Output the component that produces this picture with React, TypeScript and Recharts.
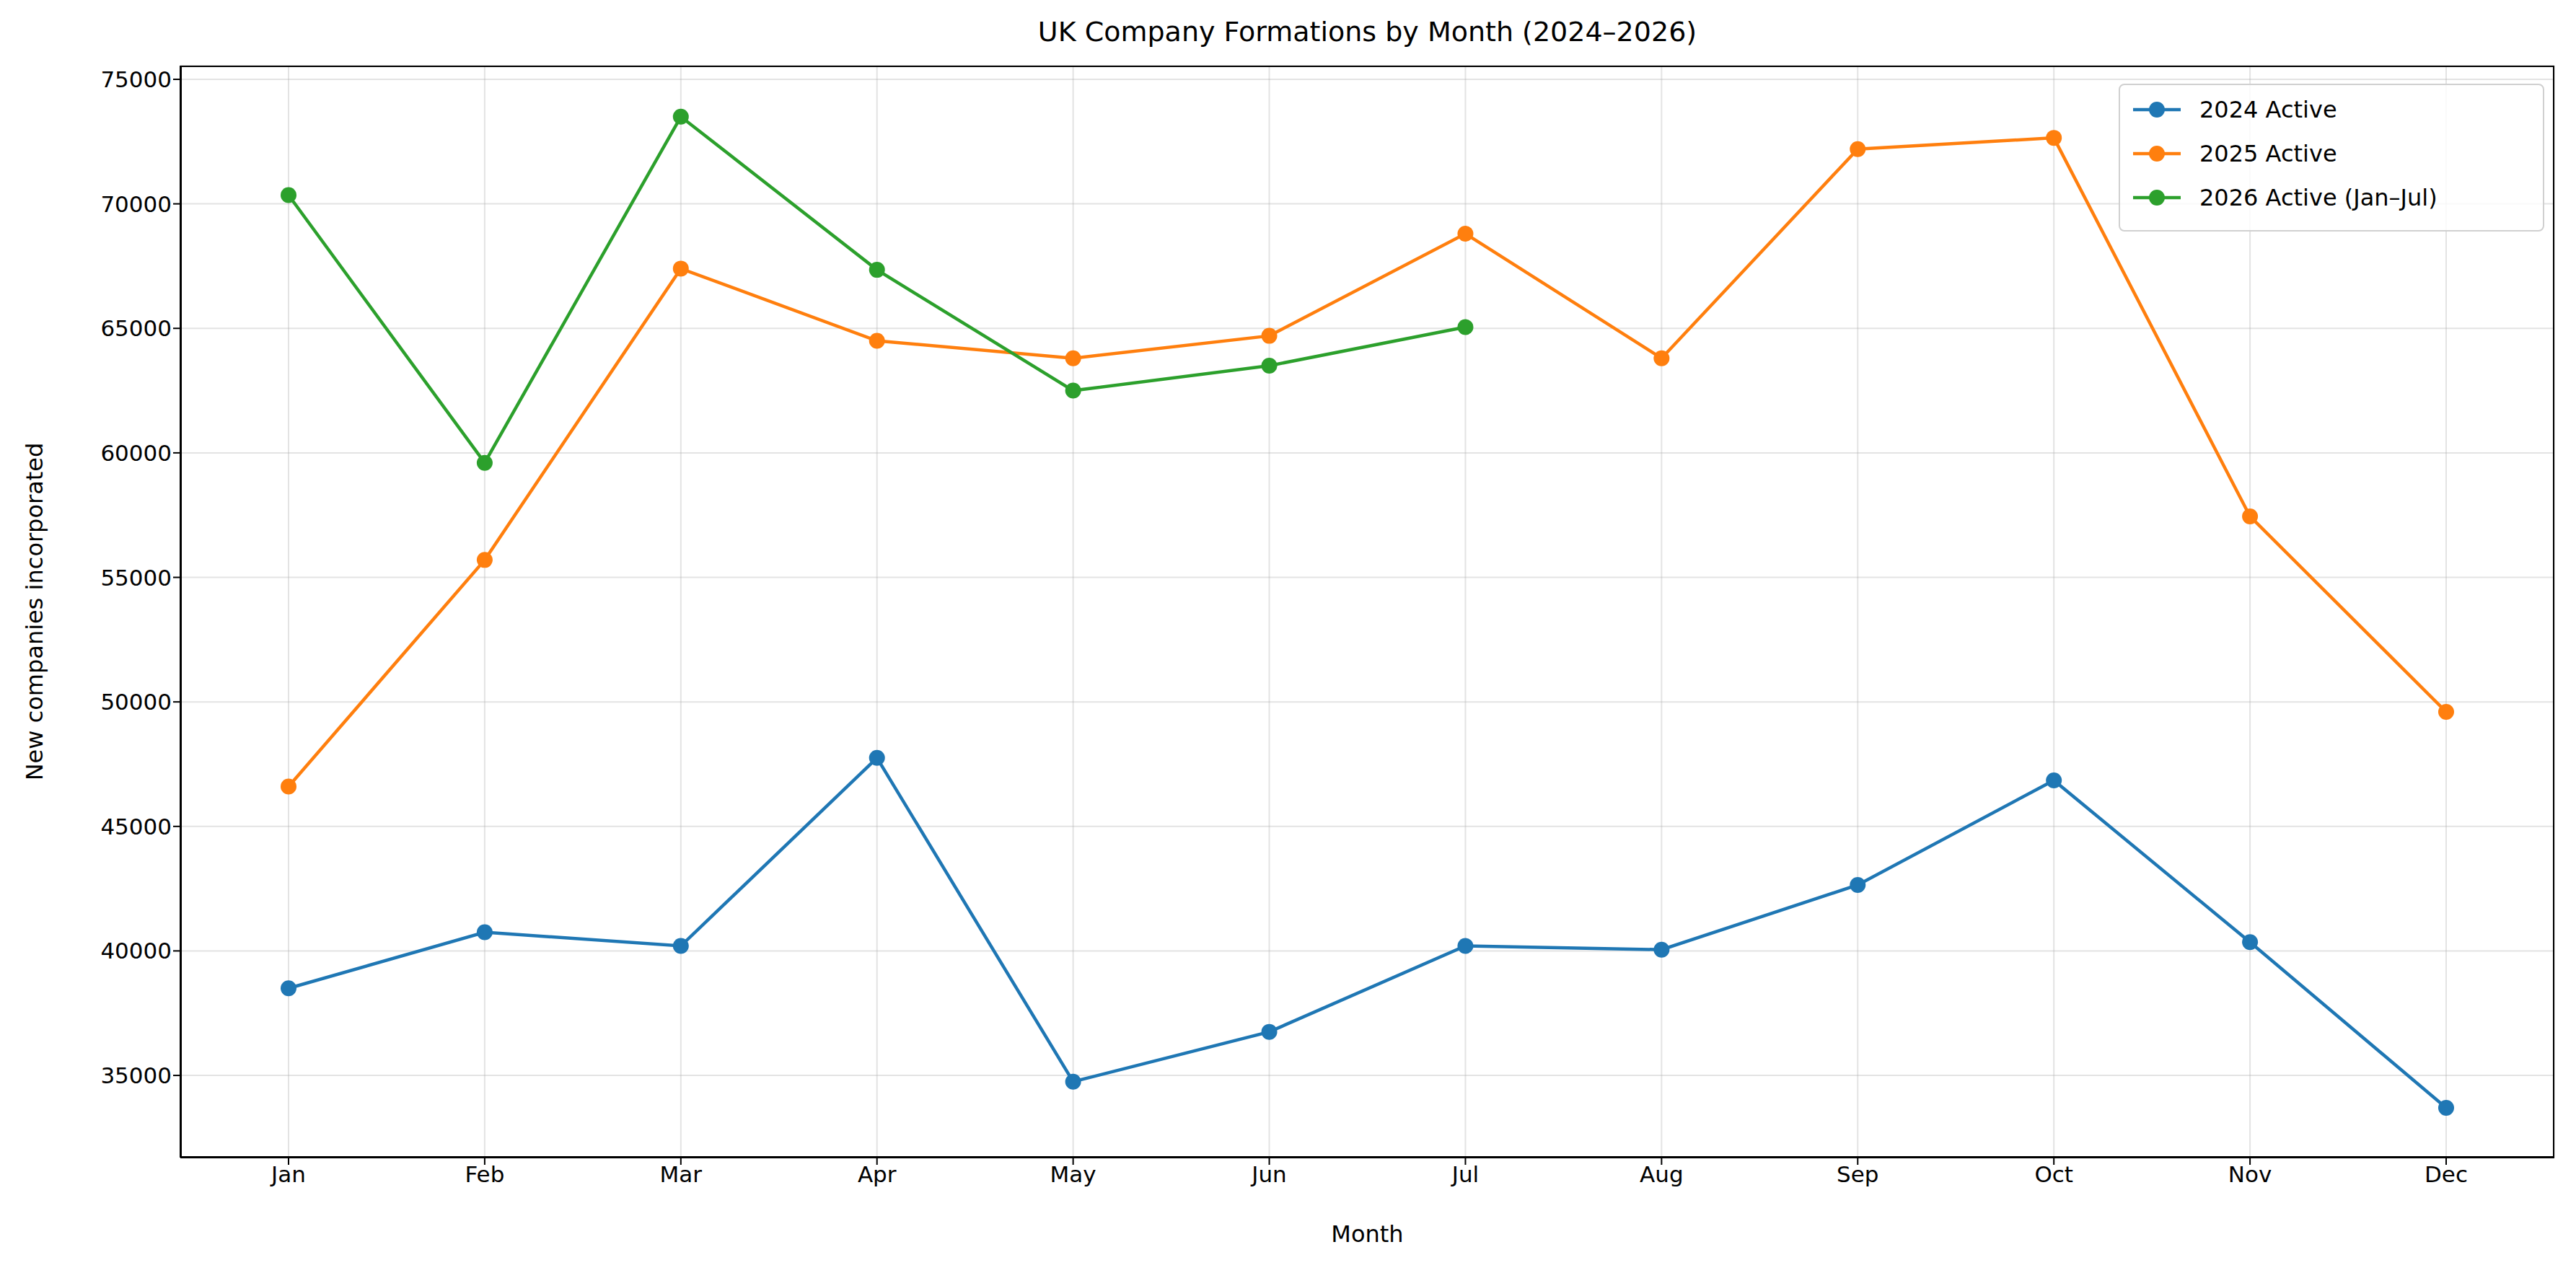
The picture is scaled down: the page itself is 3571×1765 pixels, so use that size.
import React from "react";
import { LineChart, Line, XAxis, YAxis, CartesianGrid } from "recharts";

const months = ["Jan", "Feb", "Mar", "Apr", "May", "Jun", "Jul", "Aug", "Sep", "Oct", "Nov", "Dec"];
const active2024 = [38500, 40750, 40200, 47750, 34750, 36750, 40200, 40050, 42650, 46850, 40350, 33700];
const active2025 = [46600, 55700, 67400, 64500, 63800, 64700, 68800, 63800, 72200, 72650, 57450, 49600];
const active2026 = [70350, 59600, 73500, 67350, 62500, 63500, 65050];
const yTicks = [35000, 40000, 45000, 50000, 55000, 60000, 65000, 70000, 75000];

const series = [
  { key: "a2024", name: "2024 Active", color: "#1f77b4" },
  { key: "a2025", name: "2025 Active", color: "#ff7f0e" },
  { key: "a2026", name: "2026 Active (Jan–Jul)", color: "#2ca02c" },
];

const data = months.map((m, i) => ({
  month: m,
  a2024: active2024[i],
  a2025: active2025[i],
  a2026: i < active2026.length ? active2026[i] : null,
}));

const W = 3571;
const H = 1765;
const font = "DejaVu Sans, sans-serif";
const tick = { fill: "#000", fontSize: 31, fontFamily: font };

export default function App() {
  return (
    <div style={{ position: "absolute", left: 0, top: 0, width: W, height: H, background: "#fff", fontFamily: font }}>
      <div style={{ position: "absolute", top: 22, left: 250, width: 3291, textAlign: "center", fontSize: 38 }}>
        UK Company Formations by Month (2024–2026)
      </div>
      <LineChart width={W} height={H} data={data} margin={{ top: 91, right: 30, bottom: 60, left: 100 }}>
        <CartesianGrid stroke="#b0b0b0" strokeOpacity={0.35} strokeWidth={2} />
        <XAxis
          dataKey="month"
          tick={tick}
          tickLine={{ stroke: "#000", strokeWidth: 2 }}
          tickSize={10}
          axisLine={{ stroke: "#000", strokeWidth: 2 }}
          height={100}
          padding={{ left: 150, right: 150 }}
          interval={0}
        />
        <YAxis
          domain={[31700, 75550]}
          ticks={yTicks}
          tick={tick}
          tickLine={{ stroke: "#000", strokeWidth: 2 }}
          tickSize={10}
          axisLine={{ stroke: "#000", strokeWidth: 2 }}
          width={150}
          allowDataOverflow
        />
        {series.map((s) => (
          <Line
            key={s.key}
            dataKey={s.key}
            name={s.name}
            stroke={s.color}
            strokeWidth={4.5}
            dot={{ r: 11, fill: s.color, stroke: s.color, strokeWidth: 0 }}
            activeDot={false}
            isAnimationActive={false}
            connectNulls={false}
          />
        ))}
      </LineChart>
      {/* plot frame */}
      <div style={{ position: "absolute", left: 250, top: 91, width: 3291, height: 1514, border: "2px solid #000", boxSizing: "border-box", pointerEvents: "none" }} />
      <div style={{ position: "absolute", top: 1692, left: 250, width: 3291, textAlign: "center", fontSize: 32 }}>
        Month
      </div>
      <div style={{ position: "absolute", left: 48, top: 848, transform: "translate(-50%, -50%) rotate(-90deg)", fontSize: 32, whiteSpace: "nowrap" }}>
        New companies incorporated
      </div>
      <div style={{ position: "absolute", left: 2937, top: 116, width: 590, height: 205, border: "2px solid #d0d0d0", borderRadius: 8, background: "rgba(255,255,255,0.8)", boxSizing: "border-box" }}>
        {series.map((s, i) => (
          <div key={s.key} style={{ position: "absolute", left: 18, top: 14 + i * 61, height: 40, display: "flex", alignItems: "center" }}>
            <svg width={66} height={40}>
              <line x1={0} y1={20} x2={66} y2={20} stroke={s.color} strokeWidth={4.5} />
              <circle cx={33} cy={20} r={11} fill={s.color} />
            </svg>
            <span style={{ marginLeft: 26, fontSize: 32 }}>{s.name}</span>
          </div>
        ))}
      </div>
    </div>
  );
}
